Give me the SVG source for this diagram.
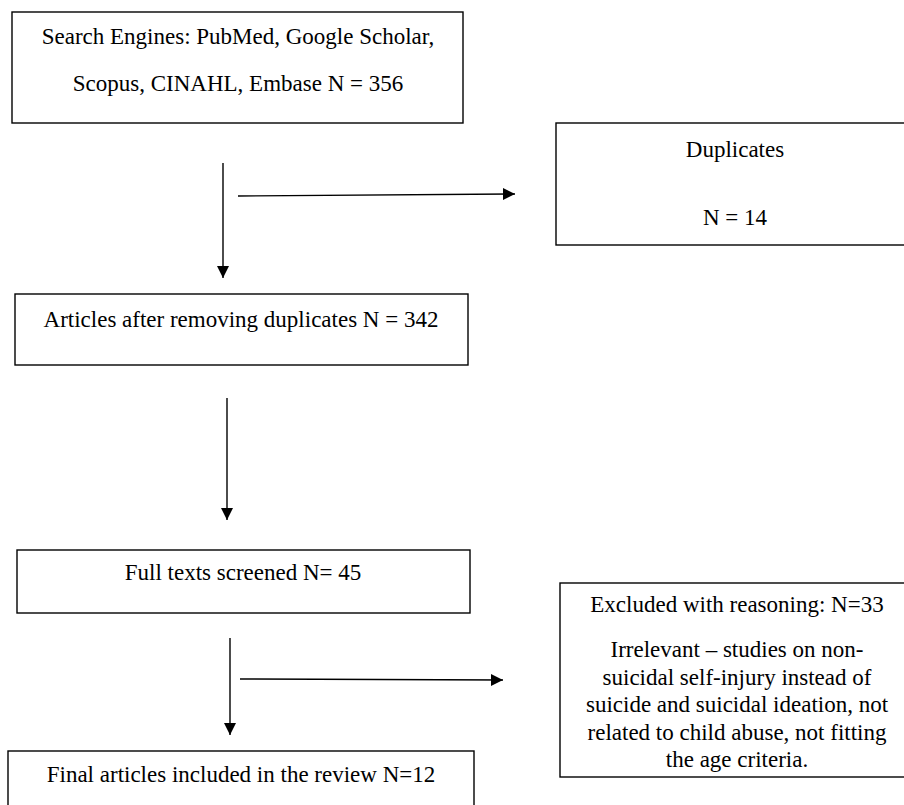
<svg xmlns="http://www.w3.org/2000/svg" width="904" height="805" viewBox="0 0 904 805">
<style>
.box{fill:#fff;stroke:#000;stroke-width:1.4}
.t{font-family:"Liberation Serif","Times New Roman",serif;font-size:23px;fill:#000;text-anchor:middle}
.c{stroke:#000;stroke-width:1.4;fill:none;marker-end:url(#ah)}
</style>
<defs>
<marker id="ah" markerUnits="userSpaceOnUse" markerWidth="13" markerHeight="13" viewBox="0 0 13 13" refX="12" refY="6.5" orient="auto">
<path d="M0,0.5 L12,6.5 L0,12.5 Z" fill="#000"/>
</marker>
</defs>
<rect width="904" height="805" fill="#fff"/>
<g id="n1">
<rect class="box" x="12" y="12" width="451" height="111"/>
<text class="t" x="238" y="44">Search Engines: PubMed, Google Scholar,</text>
<text class="t" x="238" y="91">Scopus, CINAHL, Embase N = 356</text>
</g>
<g id="n2">
<rect class="box" x="556" y="123" width="360" height="122"/>
<text class="t" x="735" y="157">Duplicates</text>
<text class="t" x="735" y="225">N = 14</text>
</g>
<g id="n3">
<rect class="box" x="15" y="294" width="453" height="71"/>
<text class="t" x="241" y="327">Articles after removing duplicates N = 342</text>
</g>
<g id="n4">
<rect class="box" x="17" y="550" width="453" height="63"/>
<text class="t" x="243" y="580">Full texts screened N= 45</text>
</g>
<g id="n5">
<rect class="box" x="560" y="583" width="360" height="194"/>
<text class="t" x="737" y="612">Excluded with reasoning: N=33</text>
<text class="t" x="737" y="657">Irrelevant – studies on non-</text>
<text class="t" x="737" y="684.5">suicidal self-injury instead of</text>
<text class="t" x="737" y="712">suicide and suicidal ideation, not</text>
<text class="t" x="737" y="739.5">related to child abuse, not fitting</text>
<text class="t" x="737" y="767">the age criteria.</text>
</g>
<g id="n6">
<rect class="box" x="8" y="751" width="466" height="70"/>
<text class="t" x="241" y="782">Final articles included in the review N=12</text>
</g>
<g id="connectors">
<line class="c" x1="223" y1="163" x2="223" y2="278"/>
<line class="c" x1="238" y1="196" x2="515" y2="194"/>
<line class="c" x1="227" y1="398" x2="227" y2="520"/>
<line class="c" x1="230" y1="638" x2="230" y2="735"/>
<line class="c" x1="240" y1="679" x2="503" y2="680"/>
</g>
</svg>
